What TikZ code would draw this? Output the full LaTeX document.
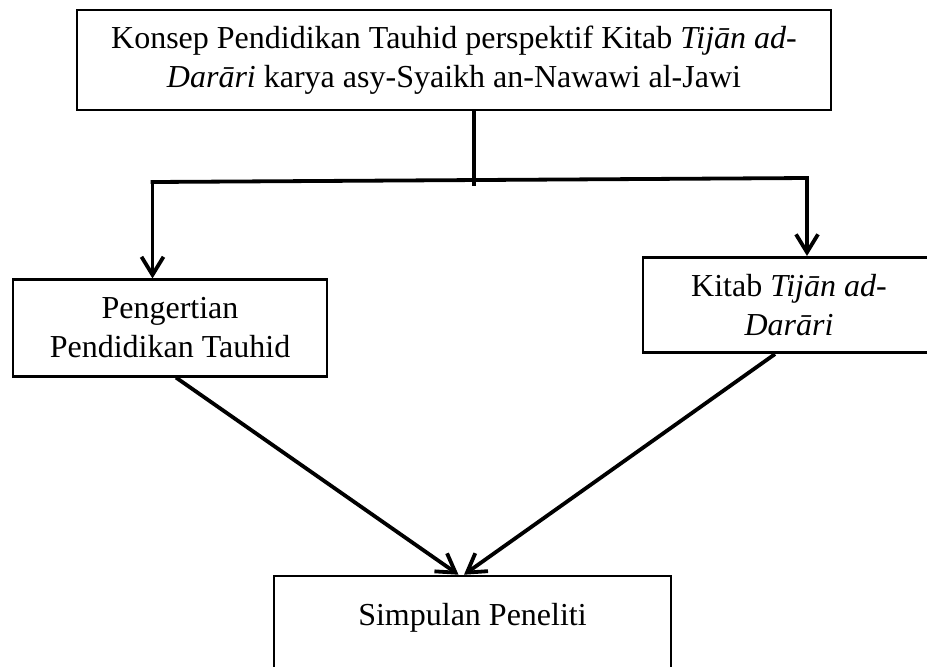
\documentclass[tikz,border=0pt]{standalone}
\usepackage{fontspec}
\setmainfont{Liberation Serif}
\usetikzlibrary{arrows.meta, positioning}

\begin{document}
\begin{tikzpicture}[x=0.5pt, y=-0.5pt,
  box/.style={draw, line width=1.3pt, align=center, inner sep=0pt, font=\fontsize{16}{19.5}\selectfont},
  link/.style={line width=1.9pt, line cap=rect},
  arr/.style={line width=1.9pt, -{Straight Barb[length=9pt, width=11pt, line width=1.9pt]}}]
  \clip (0,0) rectangle (927,666);
  \node[box, minimum width=377pt, minimum height=50pt] (konsep) at (454,60)
    {Konsep Pendidikan Tauhid perspektif Kitab \textit{Tijān ad-}\\\textit{Darāri} karya asy-Syaikh an-Nawawi al-Jawi};
  \node[box, minimum width=157pt, minimum height=48.25pt] (pengertian) at (170,328)
    {Pengertian\\Pendidikan Tauhid};
  \node[box, minimum width=146pt, minimum height=47.75pt] (kitab) at (789,305)
    {Kitab \textit{Tijān ad-}\\\textit{Darāri}};
  \node[box, minimum width=198.5pt, minimum height=58pt] (simpulan) at (472.5,634)
    {Simpulan Peneliti\\\mbox{}};

  \coordinate (split) at (474,184);
  \coordinate (lft) at (152.5,182);
  \coordinate (rgt) at (807,178);
  \draw[link] (konsep.south -| split) -- (split);
  \draw[link] (lft) -- (rgt);
  \draw[arr] (lft) -- (lft |- pengertian.north);
  \draw[arr] (rgt) -- (rgt |- kitab.north);
  \draw[arr] ([xshift=3pt]pengertian.south) -- ([xshift=-7pt]simpulan.north);
  \draw[arr] ([xshift=-7pt]kitab.south) -- ([xshift=-4.25pt]simpulan.north);
\end{tikzpicture}
\end{document}
